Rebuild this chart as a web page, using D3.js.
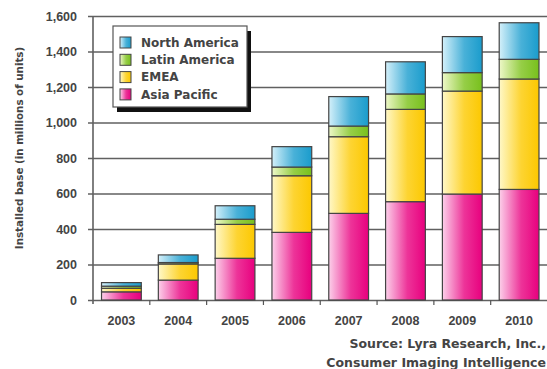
<!DOCTYPE html>
<html>
<head>
<meta charset="utf-8">
<script src="https://cdn.jsdelivr.net/npm/d3@7"></script>
<style>
  body { margin: 0; background: #fff; }
  svg { display: block; font-family: "DejaVu Sans", Verdana, sans-serif; }
</style>
</head>
<body>
<div id="root"></div>
<script>
const width = 547;
const height = 369;

const years = ['2003', '2004', '2005', '2006', '2007', '2008', '2009', '2010'];
const regions = ['Asia Pacific', 'EMEA', 'Latin America', 'North America'];
const asiaPacific = [46, 112, 235, 381, 488, 554, 597, 623];
const emea = [20, 91, 191, 319, 432, 520, 580, 622];
const latinAmerica = [12, 8, 29, 49, 60, 87, 104, 111];
const northAmerica = [20, 43, 76, 115, 166, 181, 203, 206];
const yTicks = [0, 200, 400, 600, 800, 1000, 1200, 1400, 1600];

// gradient stops: light on the left, saturated on the right
const colors = {
    'North America': ['#d4f0fa', '#1a9ccc'],
    'Latin America': ['#eef8c8', '#78c01c'],
    'EMEA': ['#fff8c8', '#fcc800'],
    'Asia Pacific': ['#fcd0ea', '#e8007e']
};

const table = years.map((y, i) => ({
    year: y,
    'Asia Pacific': asiaPacific[i],
    'EMEA': emea[i],
    'Latin America': latinAmerica[i],
    'North America': northAmerica[i]
}));

const margin = {top: 16, right: 0, bottom: 69, left: 93};

const x = d3.scaleBand()
    .domain(years)
    .range([margin.left, 547.5])
    .paddingInner(0.3)
    .paddingOuter(0.15);

const y = d3.scaleLinear()
    .domain([0, 1600])
    .range([height - margin.bottom, margin.top]);

const svg = d3.select('#root')
    .append('svg')
    .attr('width', width)
    .attr('height', height);

const defs = svg.append('defs');
regions.forEach((r, i) => {
    const g = defs.append('linearGradient')
        .attr('id', `grad${i}`)
        .attr('x1', '0%').attr('x2', '100%')
        .attr('y1', '0%').attr('y2', '0%');
    g.append('stop').attr('offset', '0%').attr('stop-color', colors[r][0]);
    g.append('stop').attr('offset', '55%').attr('stop-color', d3.interpolateRgb(colors[r][0], colors[r][1])(0.75));
    g.append('stop').attr('offset', '100%').attr('stop-color', colors[r][1]);
});

// gridlines + y axis
const yAxis = d3.axisLeft(y)
    .tickValues(yTicks)
    .tickSize(-(width - margin.left + 5))
    .tickFormat(d3.format(','));

const gy = svg.append('g')
    .attr('transform', `translate(${margin.left - 5},0)`)
    .call(yAxis);
gy.select('.domain').remove();
gy.selectAll('line')
    .attr('stroke', '#606060')
    .attr('stroke-width', 1.6);
gy.selectAll('text')
    .attr('x', -11)
    .attr('fill', '#444')
    .attr('font-size', 12.5)
    .attr('font-weight', 'bold');

// vertical axis line
svg.append('line')
    .attr('x1', margin.left).attr('x2', margin.left)
    .attr('y1', y(1600)).attr('y2', y(0) + 4)
    .attr('stroke', '#606060')
    .attr('stroke-width', 1.6);

// stacked bars
const series = d3.stack().keys(regions)(table);

svg.append('g')
    .selectAll('g')
    .data(series)
    .join('g')
    .attr('fill', (d, i) => `url(#grad${i})`)
    .selectAll('rect')
    .data(d => d)
    .join('rect')
    .attr('x', d => x(d.data.year))
    .attr('y', d => y(d[1]))
    .attr('width', x.bandwidth())
    .attr('height', d => y(d[0]) - y(d[1]))
    .attr('stroke', '#444')
    .attr('stroke-width', 1.2);

// category labels
const xAxis = d3.axisBottom(x).tickSize(0).tickPadding(16);
const gx = svg.append('g')
    .attr('transform', `translate(0,${y(0)})`)
    .call(xAxis);
gx.select('.domain').remove();
gx.selectAll('text')
    .attr('fill', '#444')
    .attr('font-size', 12.5)
    .attr('font-weight', 'bold');

// category ticks between bars
svg.append('g')
    .selectAll('line')
    .data(years.slice(1))
    .join('line')
    .attr('x1', d => x(d) - x.step() * x.paddingInner() / 2)
    .attr('x2', d => x(d) - x.step() * x.paddingInner() / 2)
    .attr('y1', y(0))
    .attr('y2', y(0) + 5)
    .attr('stroke', '#555')
    .attr('stroke-width', 1.2);

// y title
svg.append('text')
    .attr('transform', `translate(19,${148}) rotate(-90)`)
    .attr('text-anchor', 'middle')
    .attr('dy', '0.35em')
    .attr('fill', '#444')
    .attr('font-size', 10.3)
    .attr('font-weight', 'bold')
    .text('Installed base (in millions of units)');

// legend
const legend = svg.append('g').attr('transform', 'translate(113,26)');
legend.append('rect')
    .attr('x', 4).attr('y', 5)
    .attr('width', 134).attr('height', 81)
    .attr('fill', '#111');
legend.append('rect')
    .attr('width', 134).attr('height', 81)
    .attr('fill', '#fff')
    .attr('stroke', '#555')
    .attr('stroke-width', 1.2);

const legendOrder = ['North America', 'Latin America', 'EMEA', 'Asia Pacific'];
const item = legend.selectAll('.item')
    .data(legendOrder)
    .join('g')
    .attr('class', 'item')
    .attr('transform', (d, i) => `translate(7,${11 + i * 17.3})`);
item.append('rect')
    .attr('width', 11).attr('height', 11)
    .attr('fill', d => `url(#grad${regions.indexOf(d)})`)
    .attr('stroke', '#444')
    .attr('stroke-width', 1);
item.append('text')
    .attr('x', 21)
    .attr('y', 5.5)
    .attr('dy', '0.35em')
    .attr('fill', '#444')
    .attr('font-size', 12)
    .attr('font-weight', 'bold')
    .text(d => d);

// source
const src = svg.append('g').attr('text-anchor', 'end')
    .attr('fill', '#444')
    .attr('font-size', 12.5)
    .attr('font-weight', 'bold');
src.append('text').attr('x', 546).attr('y', 347.5).text('Source: Lyra Research, Inc.,');
src.append('text').attr('x', 546).attr('y', 366.5).text('Consumer Imaging Intelligence');
</script>
</body>
</html>
